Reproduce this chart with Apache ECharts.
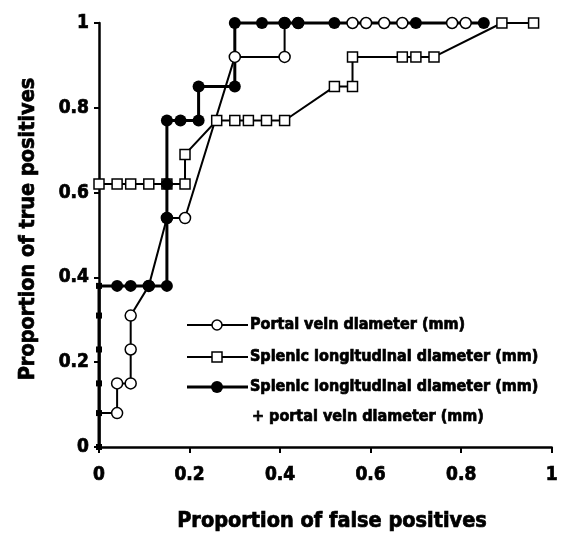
<!DOCTYPE html>
<html>
<head>
<meta charset="utf-8">
<script src="https://cdn.jsdelivr.net/npm/echarts@6/dist/echarts.min.js"></script>
<style>html,body{margin:0;padding:0;background:#fff}#c{width:561px;height:539px}</style>
</head>
<body>
<div id="c"></div>
<script>
// Portal vein diameter (open circles)
const portalData = [[0,0.08],[0.04,0.08],[0.04,0.15],[0.07,0.15],[0.07,0.23],[0.07,0.31],[0.11,0.38],[0.15,0.54],[0.19,0.54],[0.30,0.92],[0.41,0.92],[0.41,1],[0.44,1],[0.56,1],[0.59,1],[0.63,1],[0.67,1],[0.78,1],[0.81,1]];
// Splenic longitudinal diameter (open squares)
const splenicData = [[0,0.62],[0.04,0.62],[0.07,0.62],[0.11,0.62],[0.15,0.62],[0.19,0.62],[0.19,0.69],[0.26,0.77],[0.30,0.77],[0.33,0.77],[0.37,0.77],[0.41,0.77],[0.52,0.85],[0.56,0.85],[0.56,0.92],[0.67,0.92],[0.70,0.92],[0.74,0.92],[0.89,1],[0.96,1]];
// Splenic + portal (filled circles)
const combinedData = [[0,0],[0,0.08],[0,0.15],[0,0.23],[0,0.31],[0,0.38],[0.04,0.38],[0.07,0.38],[0.11,0.38],[0.15,0.38],[0.15,0.54],[0.15,0.62],[0.15,0.77],[0.18,0.77],[0.22,0.77],[0.22,0.85],[0.30,0.85],[0.30,1],[0.36,1],[0.41,1],[0.44,1],[0.52,1],[0.70,1],[0.85,1]];
const xTicks = ['0','0.2','0.4','0.6','0.8','1'];
const yTicks = ['0','0.2','0.4','0.6','0.8','1'];
const legendNames = ['Portal vein diameter (mm)','Splenic longitudinal diameter (mm)','Splenic longitudinal diameter (mm)','+ portal vein diameter (mm)'];
const xTitle = 'Proportion of false positives';
const yTitle = 'Proportion of true positives';

const FONT = '"Liberation Sans Narrow", "DejaVu Sans Condensed", sans-serif';
const chart = echarts.init(document.getElementById('c'));

function lineSeries(data, w) {
  return {type:'line', data, symbol:'none', z:2, clip:false, animation:false,
    lineStyle:{color:'#000', width:w}};
}
const open = {color:'#fff', borderColor:'#000', borderWidth:1.5, opacity:1};
const axisCommon = {
  min:0, max:1, interval:0.2,
  axisLine:{lineStyle:{color:'#000', width:2.5}},
  axisTick:{lineStyle:{color:'#000', width:2}, length:5},
  splitLine:{show:false},
  axisLabel:{color:'#000', fontFamily:FONT, fontWeight:'bold', fontSize:19, textBorderColor:'#000', textBorderWidth:0.7}
};
const LX1 = 187, LX2 = 248, LM = 217, LT = 250;
const rows = [325, 357, 387, 417];
const heavy = {fill:'#000', stroke:'#000', lineWidth:0.7};
const graphic = [
  {type:'text', x:332, y:521, style:Object.assign({text:xTitle, align:'center', verticalAlign:'middle', font:'bold 21.5px ' + FONT}, heavy)},
  {type:'text', x:28, y:229, rotation:Math.PI/2, style:Object.assign({text:yTitle, align:'center', verticalAlign:'middle', font:'bold 21.5px ' + FONT}, heavy)},
];
for (let i = 0; i < 3; i++) {
  graphic.push({type:'line', shape:{x1:LX1, y1:rows[i], x2:LX2, y2:rows[i]}, style:{stroke:'#000', lineWidth:i===2?3:2}});
}
graphic.push({type:'circle', shape:{cx:LM, cy:rows[0], r:5}, style:{fill:'#fff', stroke:'#000', lineWidth:1.5}});
graphic.push({type:'rect', shape:{x:LM-5, y:rows[1]-5, width:10, height:10}, style:{fill:'#fff', stroke:'#000', lineWidth:1.5}});
graphic.push({type:'circle', shape:{cx:LM, cy:rows[2], r:6}, style:{fill:'#000'}});
for (let i = 0; i < 4; i++) {
  graphic.push({type:'text', x:i===3?LT+2:LT, y:rows[i], style:Object.assign({text:legendNames[i], verticalAlign:'middle', font:'bold 16px ' + FONT}, heavy)});
}

chart.setOption({
  animation:false,
  backgroundColor:'#fff',
  grid:{left:99, right:8, top:23, bottom:92},
  xAxis:Object.assign({type:'value'}, axisCommon, {
    axisTick:{lineStyle:{color:'#000', width:2}, length:6},
    axisLabel:Object.assign({}, axisCommon.axisLabel, {margin:19, formatter:(v)=>xTicks[Math.round(v/0.2)]})
  }),
  yAxis:Object.assign({type:'value'}, axisCommon, {
    axisLabel:Object.assign({}, axisCommon.axisLabel, {margin:10, formatter:(v)=>yTicks[Math.round(v/0.2)]})
  }),
  graphic,
  series:[
    lineSeries(portalData, 2),
    lineSeries(splenicData, 2),
    lineSeries(combinedData, 3),
    {type:'scatter', data:portalData, z:3, clip:false, symbol:'circle',
      symbolSize:(v)=>v[0]===0?0:11, itemStyle:open},
    {type:'scatter', data:splenicData, z:3, clip:false, symbol:'rect',
      symbolSize:10, itemStyle:open},
    {type:'scatter', data:combinedData, z:3, clip:false,
      symbol:(v)=>v[0]===0?'rect':'circle',
      symbolSize:(v)=>v[0]===0?6:12, itemStyle:{color:'#000', opacity:1}}
  ]
});
</script>
</body>
</html>
